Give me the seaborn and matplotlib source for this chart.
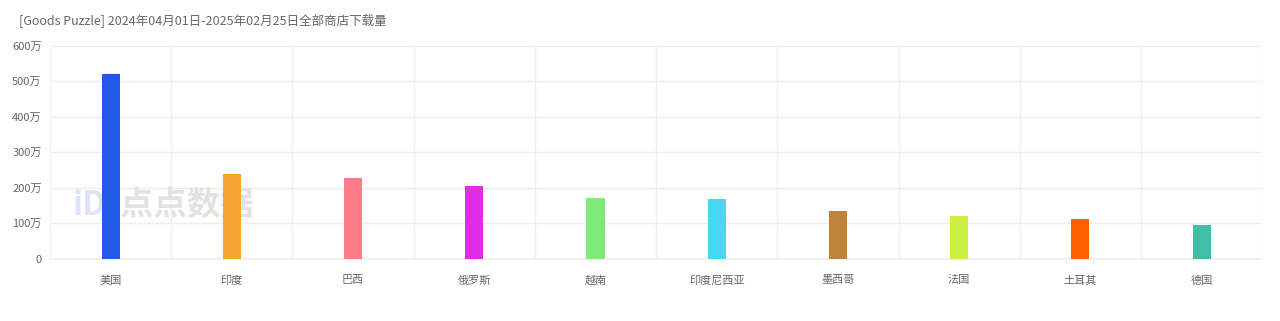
import matplotlib
matplotlib.use("Agg")
import matplotlib.pyplot as plt
import seaborn as sns
import pandas as pd

# Downloads by country (unit: 万)
countries = ["美国", "印度", "巴西", "俄罗斯", "越南", "印度尼西亚", "墨西哥", "法国", "土耳其", "德国"]
downloads = [520, 239, 226, 206, 170, 168, 134, 119, 111, 94]
colors = ["#225AE5", "#F7A530", "#FF7A8A", "#DC2EE6", "#80EA79",
          "#47D7F2", "#C28239", "#CDEF44", "#FF5F00", "#3FBFA5"]
y_ticks = [0, 100, 200, 300, 400, 500, 600]
y_tick_labels = ["0", "100万", "200万", "300万", "400万", "500万", "600万"]
title = "[Goods Puzzle] 2024年04月01日-2025年02月25日全部商店下载量"

sns.set_theme(style="white")
plt.rcParams["font.family"] = ["Noto Sans CJK SC", "DejaVu Sans"]

df = pd.DataFrame({"country": countries, "downloads": downloads})

fig = plt.figure(figsize=(12.8, 3.21), dpi=100)
ax = fig.add_axes([0.0391, 0.194, 0.947, 0.6636])

sns.barplot(data=df, x="country", y="downloads", hue="country",
            palette=colors, width=0.15, legend=False, ax=ax,
            saturation=1, linewidth=0, zorder=3)

ax.set_ylim(0, 600)
ax.set_xlim(-0.5, len(countries) - 0.5)
ax.set_yticks(y_ticks)
ax.set_yticklabels(y_tick_labels)
ax.set_xlabel("")
ax.set_ylabel("")

# Horizontal grid lines
ax.yaxis.grid(True, color="#EEEEEE", linewidth=1, zorder=0)
ax.set_axisbelow(True)
# Vertical separators between categories
for b in range(len(countries) + 1):
    ax.axvline(b - 0.5, color="#F0F0F0", linewidth=1, zorder=0)

for s in ["top", "right", "left"]:
    ax.spines[s].set_visible(False)
ax.spines["bottom"].set_color("#EEEEEE")

ax.tick_params(axis="both", length=0, colors="#666666", labelsize=8)
ax.tick_params(axis="x", pad=12)
ax.tick_params(axis="y", pad=6)

# Watermark, kept beneath the bars
ax.text(0.094, 0.36, "点点数据", fontsize=24, fontweight="bold",
        color="#E2E2E2", zorder=1, transform=fig.transFigure, va="center")
ax.text(0.057, 0.36, "iD", fontsize=24, fontweight="bold",
        color="#DCE4FA", zorder=1, transform=fig.transFigure, va="center")

fig.text(0.0148, 0.935, title, fontsize=9, color="#666666", va="center")

fig.savefig("out.png", dpi=100)
